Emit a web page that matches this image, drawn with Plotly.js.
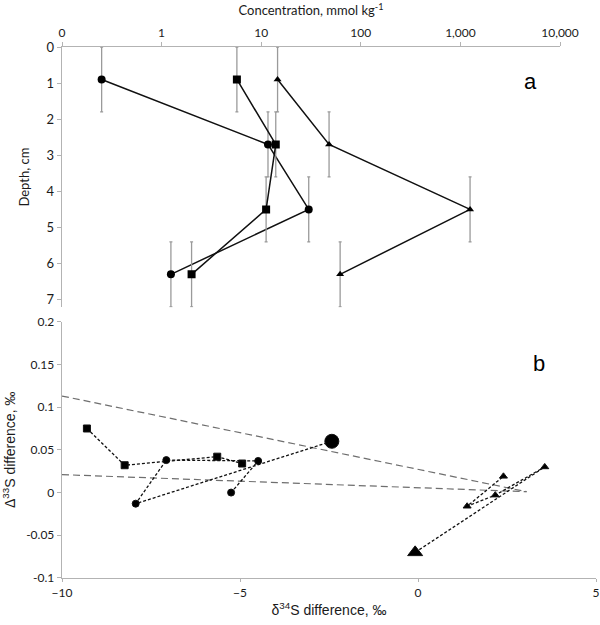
<!DOCTYPE html>
<html>
<head>
<meta charset="utf-8">
<script src="https://cdn.plot.ly/plotly-3.0.1.min.js"></script>
<style>html,body{margin:0;padding:0;background:#fff;}#chart{width:600px;height:625px;}</style>
</head>
<body>
<div id="chart"></div>
<script>
// ---- Panel a: concentration vs depth ----
const depthCm = [0.9, 2.7, 4.5, 6.3];
const depthErr = [0.9, 0.9, 0.9, 0.9];
const concCircle = [0.25, 11.7, 30, 1.24];
const concSquare = [5.7, 14.0, 11.2, 2.0];
const concTriangle = [14.6, 48, 1250, 62];
const concTickVals = [0.1, 1, 10, 100, 1000, 10000];
const concTickText = ['0', '1', '10', '100', '1,000', '10,000'];

// ---- Panel b: Δ33S vs δ34S differences ----
const d34Circle = [-2.42, -7.93, -7.07, -4.49, -5.25];
const D33Circle = [0.060, -0.013, 0.038, 0.037, 0.000];
const d34Square = [-9.30, -8.24, -5.64, -4.94];
const D33Square = [0.075, 0.032, 0.042, 0.034];
const d34Triangle = [-0.08, 3.56, 2.17, 1.38, 2.40];
const D33Triangle = [-0.070, 0.030, -0.003, -0.016, 0.019];
const d34RefUpper = [-10, 3.05];
const D33RefUpper = [0.113, 0.001];
const d34RefLower = [-10, 3.05];
const D33RefLower = [0.021, 0.001];

const tickFont = {family: 'Lato, "Open Sans", sans-serif', size: 12, color: '#1a1a1a'};
const axisGray = '#b3b3b3';

function profile(x, sym, size) {
  return {
    x: x, y: depthCm, xaxis: 'x', yaxis: 'y', type: 'scatter', mode: 'lines+markers',
    line: {color: '#111', width: 1.5},
    marker: {symbol: sym, size: size, color: '#000', opacity: 1},
    error_y: {type: 'data', array: depthErr, visible: true, color: '#9a9a9a', thickness: 1.3, width: 1.5},
    showlegend: false, hoverinfo: 'x+y'
  };
}
function bigFirst(arr, big, small) { return arr.map((_, i) => i === 0 ? big : small); }
function isoChain(x, y, sym, sizes) {
  return {
    x: x, y: y, xaxis: 'x2', yaxis: 'y2', type: 'scatter', mode: 'lines+markers',
    line: {color: '#111', width: 1.3, dash: '3px,2px'},
    marker: {symbol: sym, size: sizes, color: '#000', opacity: 1},
    showlegend: false
  };
}
function refLine(x, y) {
  return {
    x: x, y: y, xaxis: 'x2', yaxis: 'y2', type: 'scatter', mode: 'lines',
    line: {color: '#6e6e6e', width: 1.2, dash: '7px,4px'}, showlegend: false, hoverinfo: 'skip'
  };
}

const data = [
  profile(concCircle, 'circle', 8),
  profile(concSquare, 'square', 8),
  profile(concTriangle, 'triangle-up', 7),
  refLine(d34RefUpper, D33RefUpper),
  refLine(d34RefLower, D33RefLower),
  isoChain(d34Square, D33Square, 'square', d34Square.map(() => 7)),
  isoChain(d34Circle, D33Circle, 'circle', bigFirst(d34Circle, 14, 7)),
  isoChain(d34Triangle, D33Triangle, 'triangle-up', bigFirst(d34Triangle, 13, 7))
];

const layout = {
  width: 600, height: 625,
  margin: {l: 62, r: 4, t: 47, b: 47},
  paper_bgcolor: '#fff', plot_bgcolor: '#fff',
  font: tickFont,
  showlegend: false,
  xaxis: {
    type: 'log', domain: [0, 0.9326], range: [-1, 4], side: 'top', anchor: 'y',
    tickvals: concTickVals, ticktext: concTickText,
    showgrid: false, zeroline: false, showline: true, linecolor: axisGray, linewidth: 1.3,
    ticks: 'outside', ticklen: 4, tickcolor: axisGray, tickfont: tickFont,
    title: {text: 'Concentration, mmol kg<sup>-1</sup>', font: {family: 'Lato, "Open Sans", sans-serif', size: 13, color: '#1a1a1a'}, standoff: 6}
  },
  yaxis: {
    domain: [0.51, 1], range: [7.21, 0], anchor: 'x',
    tickvals: [0, 1, 2, 3, 4, 5, 6, 7],
    showgrid: false, zeroline: false, showline: true, linecolor: axisGray, linewidth: 1.3,
    ticks: 'outside', ticklen: 4, tickcolor: axisGray, tickfont: {family: 'Lato, "Open Sans", sans-serif', size: 13, color: '#1a1a1a'},
    title: {text: 'Depth, cm', font: {family: 'Lato, "Open Sans", sans-serif', size: 13, color: '#1a1a1a'}, standoff: 14}
  },
  xaxis2: {
    domain: [0, 1], range: [-10, 5], anchor: 'y2',
    tickvals: [-10, -5, 0, 5],
    showgrid: false, zeroline: false, showline: true, linecolor: axisGray, linewidth: 1.3,
    ticks: 'outside', ticklen: 3, tickcolor: axisGray, tickfont: tickFont,
    title: {text: 'δ<sup>34</sup>S difference, ‰', font: {family: '"Liberation Sans", Arial, sans-serif', size: 14, color: '#1a1a1a'}, standoff: 6}
  },
  yaxis2: {
    domain: [0, 0.4827], range: [-0.1, 0.2], anchor: 'x2',
    tickvals: [-0.1, -0.05, 0, 0.05, 0.1, 0.15, 0.2],
    ticktext: ['-0.1', '-0.05', '0', '0.05', '0.1', '0.15', '0.2'],
    showgrid: false, zeroline: false, showline: true, linecolor: axisGray, linewidth: 1.3,
    ticks: 'outside', ticklen: 4, tickcolor: axisGray, tickfont: tickFont,
    title: {text: 'Δ<sup>33</sup>S difference, ‰', font: {family: '"Liberation Sans", Arial, sans-serif', size: 14, color: '#1a1a1a'}, standoff: 8}
  },
  annotations: [
    {text: 'a', xref: 'paper', yref: 'paper', x: 0.893, y: 0.962, showarrow: false,
     font: {family: '"Liberation Sans", Arial, sans-serif', size: 22, color: '#000'}},
    {text: 'b', xref: 'paper', yref: 'paper', x: 0.908, y: 0.404, showarrow: false,
     font: {family: '"Liberation Sans", Arial, sans-serif', size: 22, color: '#000'}}
  ]
};

Plotly.newPlot('chart', data, layout, {displayModeBar: false, staticPlot: true});
</script>
</body>
</html>
